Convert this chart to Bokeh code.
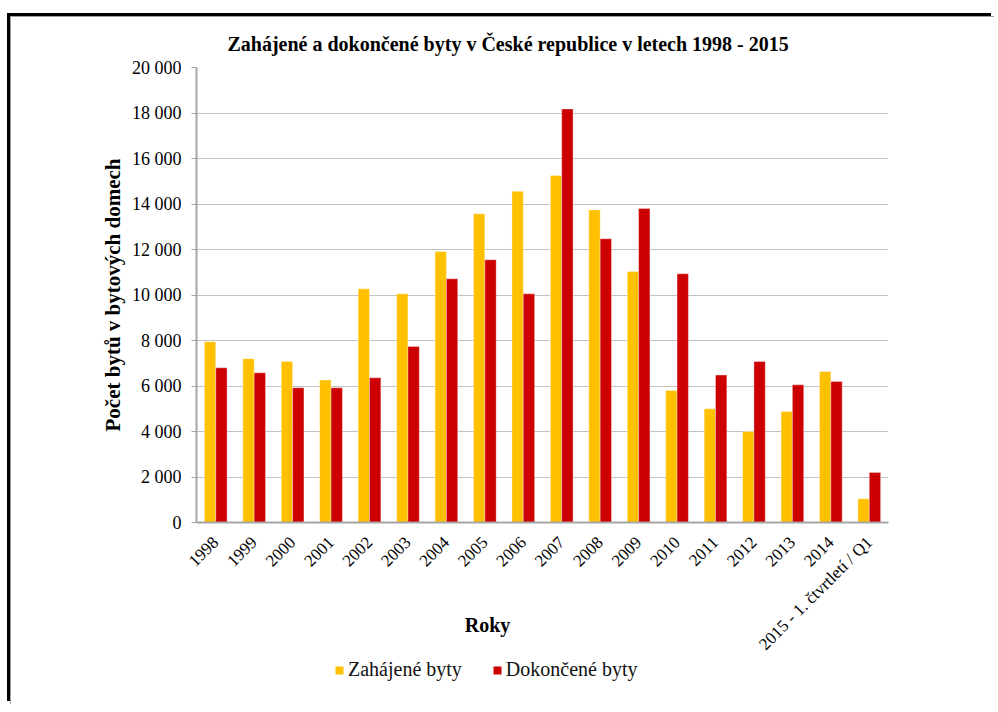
import math
from bokeh.plotting import figure
from bokeh.layouts import column
from bokeh.models import Range1d, FixedTicker, ColumnDataSource, Legend
from bokeh.transform import dodge
from bokeh.embed import file_html
from bokeh.resources import INLINE

categories = ["1998", "1999", "2000", "2001", "2002", "2003", "2004", "2005", "2006",
              "2007", "2008", "2009", "2010", "2011", "2012", "2013", "2014",
              "2015 - 1. čtvrtletí / Q1"]
zahajene = [7950, 7200, 7080, 6260, 10270, 10050, 11910, 13570, 14560, 15250,
            13740, 11030, 5800, 5000, 4000, 4880, 6640, 1040]
dokoncene = [6800, 6580, 5920, 5920, 6360, 7740, 10710, 11550, 10050, 18180,
             12470, 13800, 10930, 6480, 7080, 6050, 6200, 2200]
y_ticks = [0, 2000, 4000, 6000, 8000, 10000, 12000, 14000, 16000, 18000, 20000]
y_tick_labels = ["0", "2 000", "4 000", "6 000", "8 000", "10 000", "12 000",
                 "14 000", "16 000", "18 000", "20 000"]

title_text = "Zahájené a dokončené byty v České republice v letech 1998 - 2015"
x_title = "Roky"
y_title = "Počet bytů v bytových domech"
series_names = ["Zahájené byty", "Dokončené byty"]

FONT = "Liberation Serif"
YELLOW = "#FFC000"
RED = "#CC0000"
AXIS = "#a6a6a6"
NBSP = "\u00a0"

W = 984
H1 = 641
H2 = 47

src = ColumnDataSource(dict(cat=categories, z=zahajene, d=dokoncene))

p = figure(x_range=categories, y_range=Range1d(0, 20000),
           width=W, height=H1, output_backend="svg", toolbar_location=None,
           min_border_left=185, min_border_top=50, min_border_right=107,
           min_border_bottom=136, title=title_text)
p.outline_line_color = None
p.background_fill_color = None
p.border_fill_color = None

p.title.text_font = FONT
p.title.text_font_size = "20px"
p.title.text_font_style = "bold"
p.title.align = "left"
p.title.offset = 31
p.title.standoff = 26
p.title.text_color = "black"

bw = 0.295
r1 = p.vbar(x=dodge("cat", -bw / 2, range=p.x_range), top="z", width=bw, source=src,
            fill_color=YELLOW, line_color="white", line_alpha=0.35, line_width=1)
r2 = p.vbar(x=dodge("cat", bw / 2, range=p.x_range), top="d", width=bw, source=src,
            fill_color=RED, line_color="white", line_alpha=0.35, line_width=1)

# grid
p.xgrid.grid_line_color = None
p.ygrid.grid_line_color = "#858585"
p.ygrid.grid_line_dash = "1 1"
p.ygrid.grid_line_width = 1
p.ygrid.ticker = FixedTicker(ticks=y_ticks)

# y axis
p.yaxis.ticker = FixedTicker(ticks=y_ticks)
p.yaxis.major_label_overrides = {t: l for t, l in zip(y_ticks, y_tick_labels)}
p.yaxis.minor_tick_line_color = None
p.yaxis.major_tick_in = 0
p.yaxis.major_tick_out = 5
p.yaxis.major_tick_line_color = AXIS
p.yaxis.axis_line_color = AXIS
p.yaxis.axis_line_width = 2
p.yaxis.major_label_text_font = FONT
p.yaxis.major_label_text_font_size = "18px"
p.yaxis.major_label_text_color = "black"
p.yaxis.major_label_standoff = 10
p.yaxis.axis_label = y_title
p.yaxis.axis_label_text_font = FONT
p.yaxis.axis_label_text_font_size = "21px"
p.yaxis.axis_label_text_font_style = "bold"
p.yaxis.axis_label_text_color = "black"
p.yaxis.axis_label_standoff = 4

# x axis
p.xaxis.major_tick_line_color = None
p.xaxis.minor_tick_line_color = None
p.xaxis.axis_line_color = AXIS
p.xaxis.axis_line_width = 2
p.xaxis.major_label_orientation = math.pi / 4
p.xaxis.major_label_overrides = {c: c + NBSP * 3 for c in categories}
p.xaxis.major_label_text_font = FONT
p.xaxis.major_label_text_font_size = "17px"
p.xaxis.major_label_text_color = "black"
p.xaxis.major_label_standoff = 11
# trailing no-break spaces shift the centred axis title to the left, as in the original
p.xaxis.axis_label = x_title + NBSP * 22
p.xaxis.axis_label_text_font = FONT
p.xaxis.axis_label_text_font_size = "20px"
p.xaxis.axis_label_text_font_style = "bold"
p.xaxis.axis_label_text_color = "black"
p.xaxis.axis_label_standoff = -49

# legend strip below the chart
p2 = figure(width=W, height=H2, x_range=Range1d(0, 1), y_range=Range1d(0, 1),
            output_backend="svg", toolbar_location=None, min_border=0,
            x_axis_location=None, y_axis_location=None)
p2.grid.visible = False
p2.outline_line_color = None
p2.background_fill_color = None
p2.border_fill_color = None
lg1 = p2.vbar(x=[math.nan], top=[math.nan], width=0.1, fill_color=YELLOW, line_color=None)
lg2 = p2.vbar(x=[math.nan], top=[math.nan], width=0.1, fill_color=RED, line_color=None)

legend = Legend(items=[(series_names[0], [lg1]), (series_names[1], [lg2])],
                orientation="horizontal", location=(138, 24))
legend.padding = 0
legend.margin = 0
legend.spacing = 30
legend.glyph_width = 10
legend.glyph_height = 10
legend.label_standoff = 4
legend.label_height = 20
legend.label_text_font = FONT
legend.label_text_font_size = "20px"
legend.label_text_color = "#111111"
legend.border_line_color = None
legend.background_fill_alpha = 0
p2.add_layout(legend)

layout = column(p, p2, spacing=0)
layout.styles = {"margin-left": "11px", "margin-top": "17px",
                 "box-shadow": "-1px -1px 0 0 #a0a0a0, -4px -4px 0 0 #000000"}

open("out.html", "w").write(file_html(layout, INLINE))
